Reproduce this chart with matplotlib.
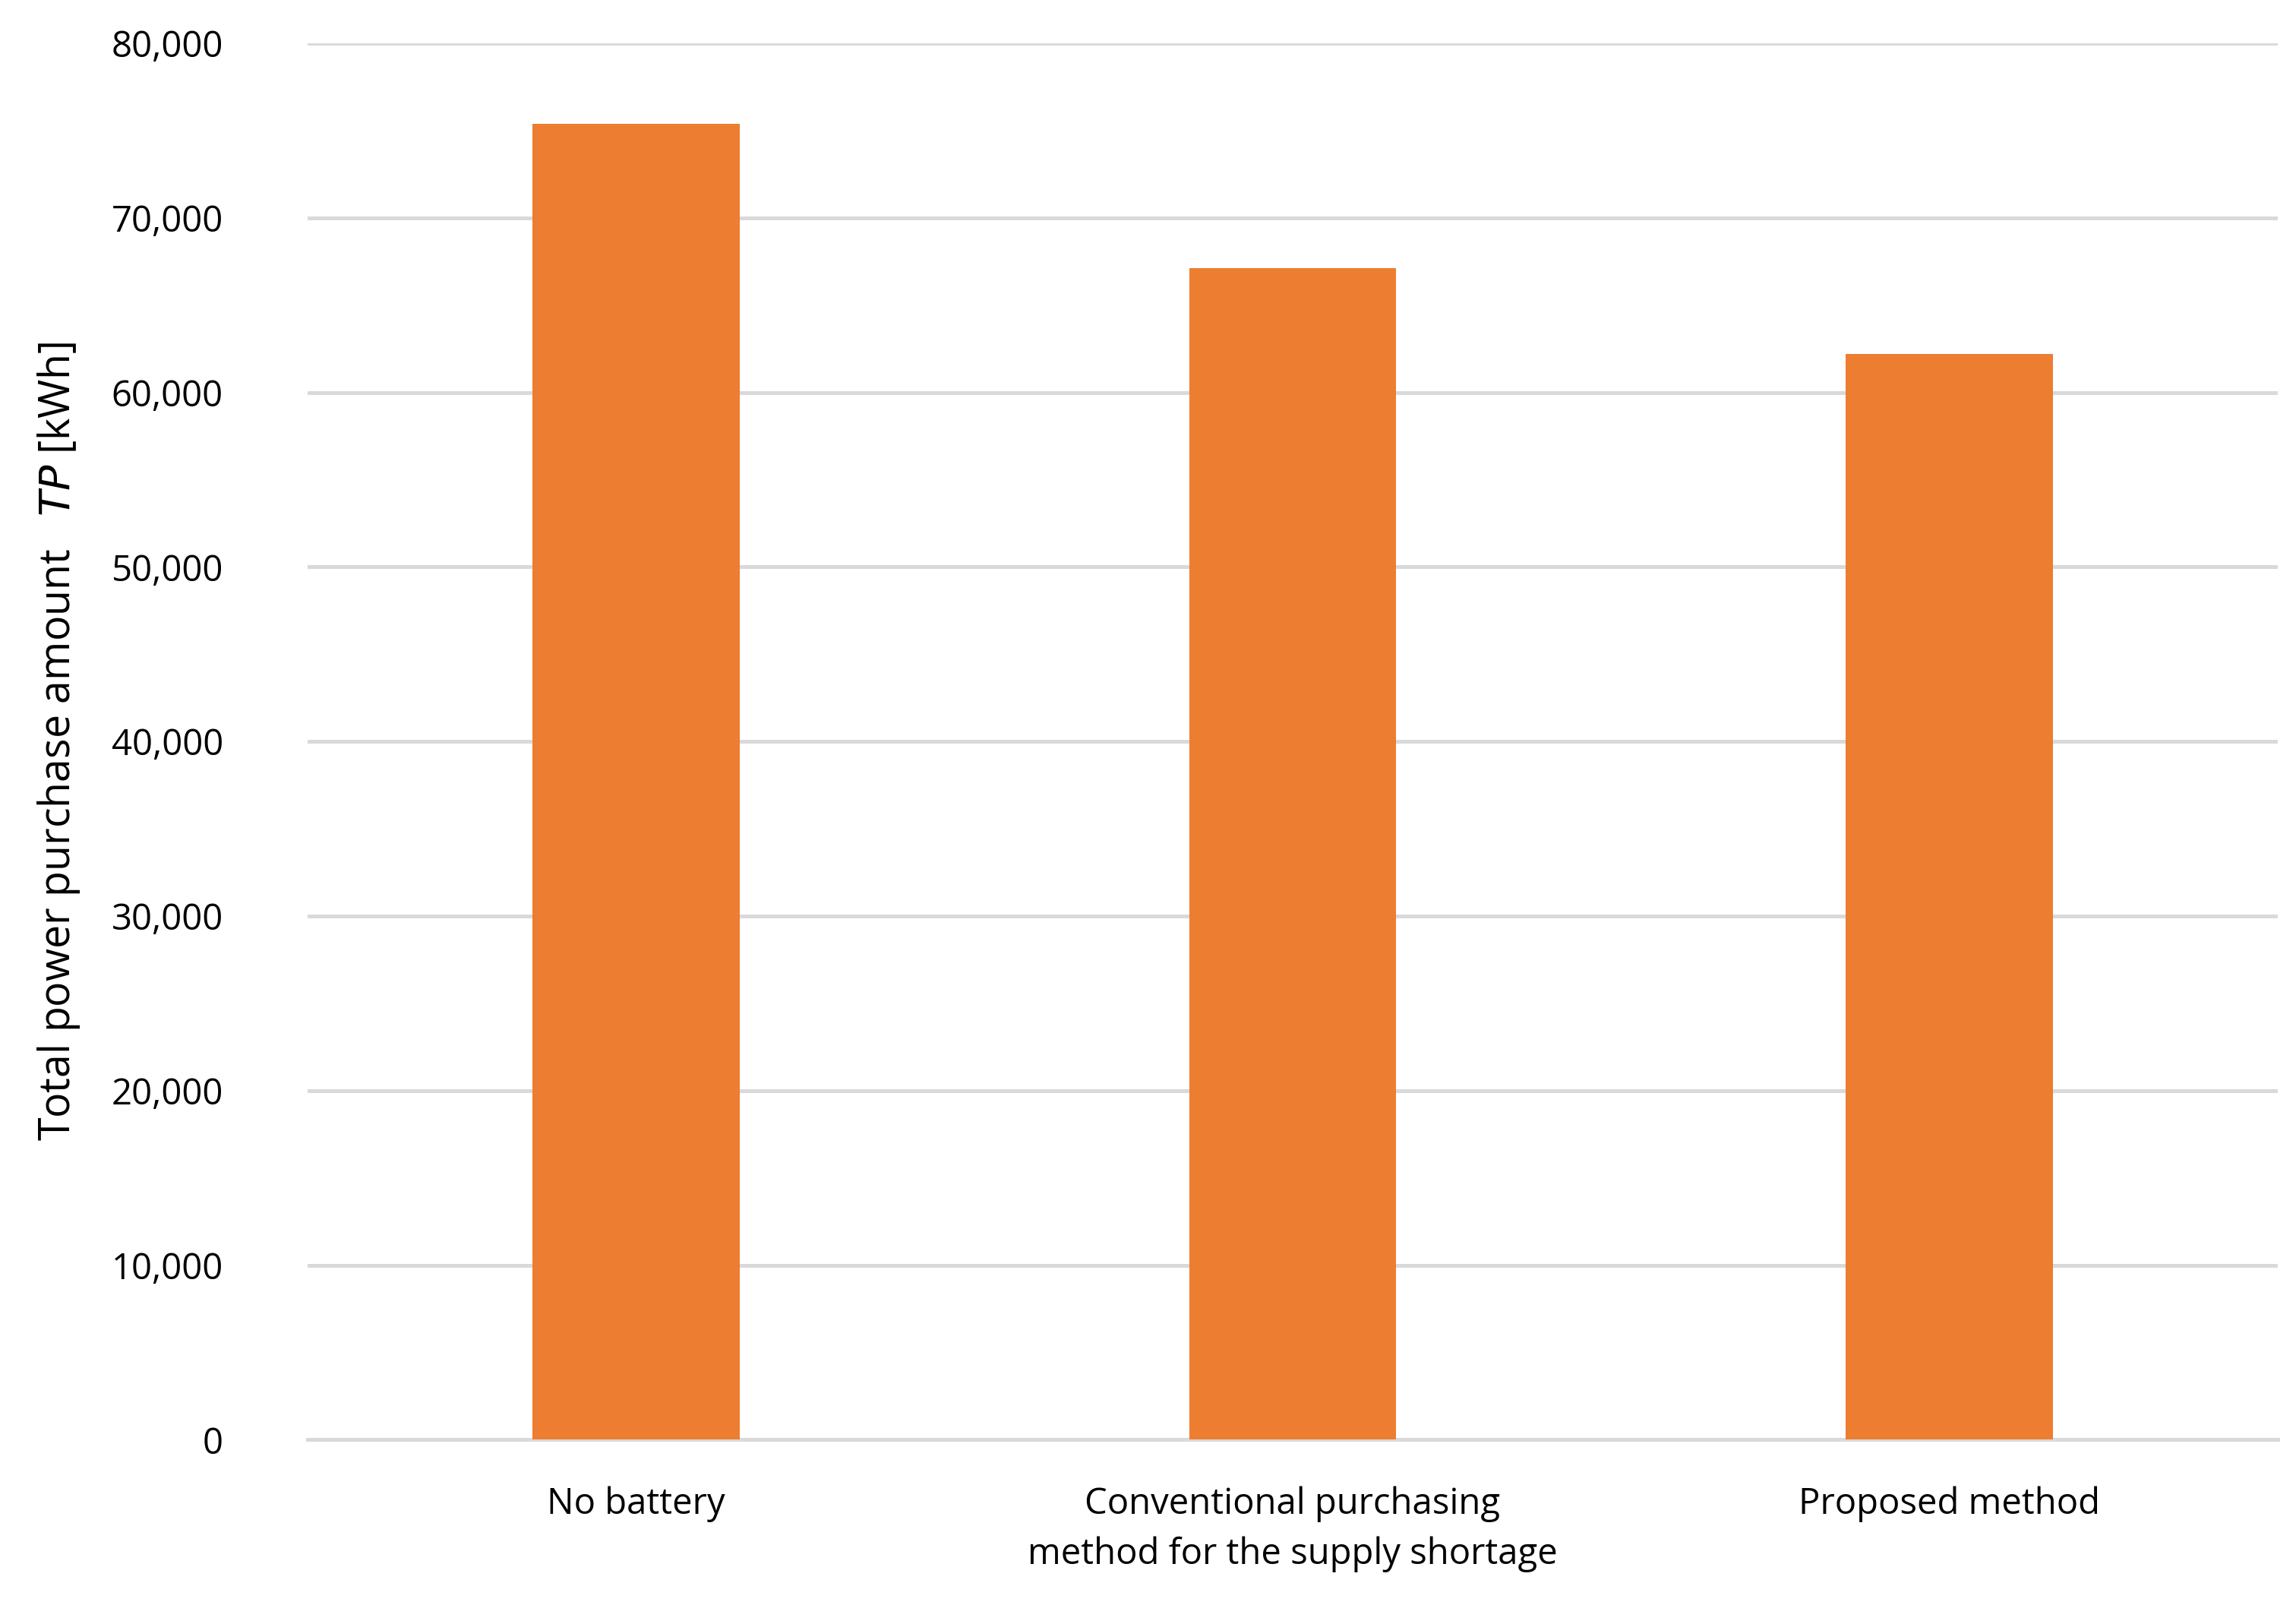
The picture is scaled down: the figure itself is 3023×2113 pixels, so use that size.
import matplotlib
matplotlib.use("Agg")
import matplotlib.pyplot as plt
from matplotlib.ticker import FuncFormatter

categories = ["No battery", "Conventional purchasing\nmethod for the supply shortage", "Proposed method"]
values = [75400, 67100, 62200]
yticks = list(range(0, 80001, 10000))

plt.rcParams['font.family'] = ['Open Sans', 'DejaVu Sans']
fig = plt.figure(figsize=(15.115, 10.565), dpi=200)
ax = fig.add_axes([0.134, 0.103, 0.858, 0.87])
x = range(len(categories))
ax.bar(x, values, width=0.315, color="#ED7D31", zorder=3)
ax.set_xlim(-0.5, 2.5)
ax.set_ylim(0, 80000)
ax.set_yticks(yticks)
ax.yaxis.set_major_formatter(FuncFormatter(lambda v, p: f"{int(v):,}"))
ax.set_xticks(list(x))
ax.set_xticklabels(categories, fontsize=17, linespacing=1.5)
ax.tick_params(axis='y', labelsize=17, length=0, pad=40)
ax.tick_params(axis='x', length=0, pad=22)
ax.grid(axis='y', color="#D9D9D9", linewidth=1.8, zorder=0)
for s in ["top", "right", "left"]:
    ax.spines[s].set_visible(False)
ax.spines["bottom"].set_color("#D9D9D9")
ax.spines["bottom"].set_linewidth(1.8)
ax.set_ylabel("Total power purchase amount   $TP$ [kWh]", fontsize=20, labelpad=14)
fig.savefig("out.png", dpi=200)
